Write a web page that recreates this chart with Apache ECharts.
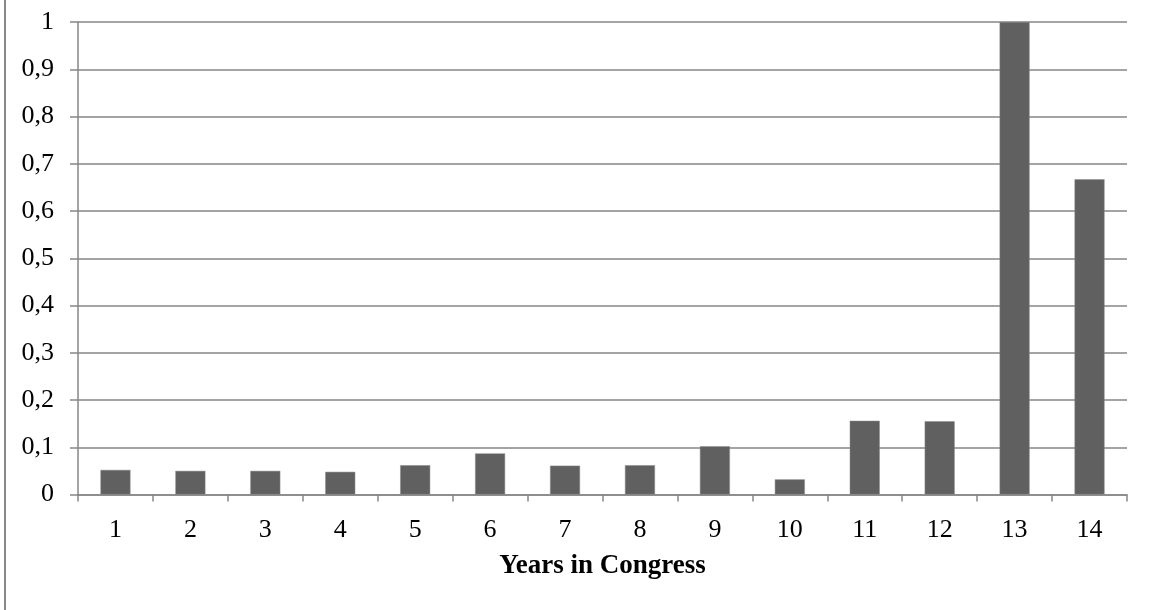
<!DOCTYPE html>
<html>
<head>
<meta charset="utf-8">
<script src="https://cdn.jsdelivr.net/npm/echarts@6/dist/echarts.min.js"></script>
<style>
html,body{margin:0;padding:0;background:#fff;}
#chart{width:1151px;height:610px;}
</style>
</head>
<body>
<div id="chart"></div>
<script>
const categories = ['1','2','3','4','5','6','7','8','9','10','11','12','13','14'];
const values = [0.052, 0.050, 0.050, 0.048, 0.062, 0.087, 0.061, 0.062, 0.102, 0.032, 0.156, 0.155, 1.0, 0.667];
const xTitle = 'Years in Congress';

const chart = echarts.init(document.getElementById('chart'));
const font = '"Liberation Serif", "Times New Roman", serif';
const axisGray = '#868686';
chart.setOption({
  animation: false,
  graphic: [{
    type: 'line',
    shape: {x1: 5, y1: 0, x2: 5, y2: 610},
    style: {stroke: '#888888', lineWidth: 2}
  }],
  grid: {left: 78, right: 24, top: 22, bottom: 115.5, containLabel: false},
  xAxis: {
    type: 'category',
    data: categories,
    name: xTitle,
    nameLocation: 'middle',
    nameGap: 58,
    nameTextStyle: {fontFamily: font, fontWeight: 'bold', fontSize: 27, color: '#000'},
    axisLine: {lineStyle: {color: axisGray, width: 1.5}},
    axisTick: {show: true, length: 7, lineStyle: {color: axisGray, width: 1.5}},
    axisLabel: {fontFamily: font, fontSize: 26, color: '#000', margin: 23}
  },
  yAxis: {
    type: 'value',
    min: 0, max: 1, interval: 0.1,
    axisLine: {show: true, lineStyle: {color: axisGray, width: 1.5}},
    axisTick: {show: true, length: 8, lineStyle: {color: axisGray, width: 1.5}},
    splitLine: {lineStyle: {color: axisGray, width: 1.5}},
    axisLabel: {
      fontFamily: font, fontSize: 26, color: '#000', margin: 24,
      formatter: v => (Math.round(v * 10) / 10).toString().replace('.', ',')
    }
  },
  series: [{
    type: 'bar',
    data: values,
    barWidth: 30,
    itemStyle: {color: '#606060', borderColor: '#8a8a8a', borderWidth: 0.5}
  }]
});
</script>
</body>
</html>
